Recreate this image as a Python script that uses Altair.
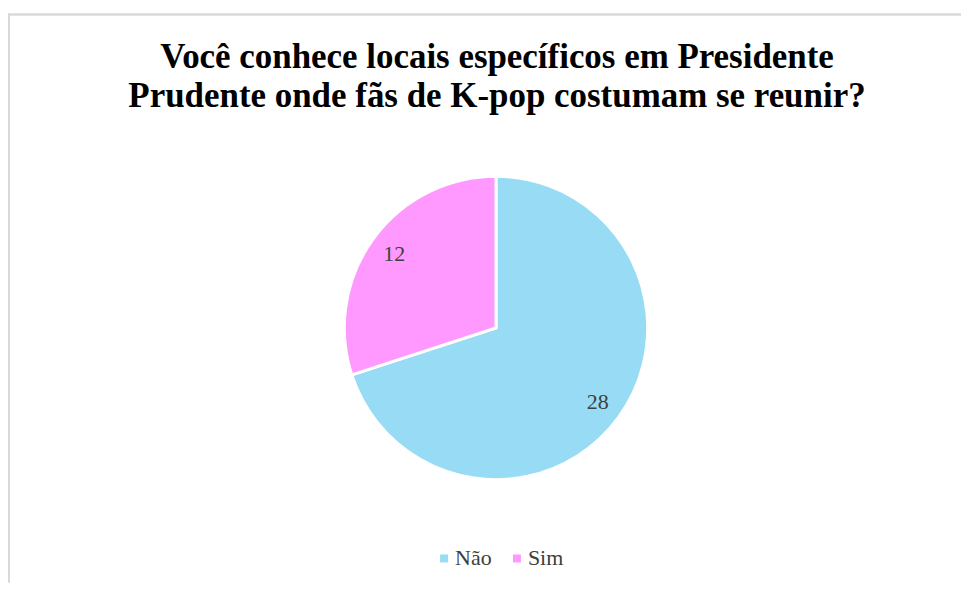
import altair as alt
import pandas as pd

categories = ["Não", "Sim"]
values = [28, 12]
colors = ["#98DBF4", "#FF99FF"]
title_lines = ["Você conhece locais específicos em Presidente",
               "Prudente onde fãs de K-pop costumam se reunir?"]

df = pd.DataFrame({"resposta": categories, "valor": values, "ordem": [0, 1]})

W, H = 954, 570

base = alt.Chart(df).encode(
    theta=alt.Theta("valor:Q", stack=True),
    order=alt.Order("ordem:Q"),
)

pie = base.mark_arc(radius=152, stroke="white", strokeWidth=3).encode(
    x=alt.value(488), y=alt.value(315),
    color=alt.Color("resposta:N",
                    scale=alt.Scale(domain=categories, range=colors),
                    legend=alt.Legend(title=None, orient="none", direction="horizontal",
                                      legendX=425, legendY=535, symbolType="square",
                                      symbolSize=64, labelFont="Liberation Serif",
                                      labelFontSize=22, labelColor="#404040",
                                      labelOffset=0, columnPadding=14,
                                      symbolStrokeWidth=0)),
)

labels = base.mark_text(radius=126, font="Liberation Serif", fontSize=22,
                        color="#404040").encode(
    x=alt.value(488), y=alt.value(315),
    text=alt.Text("valor:Q"),
)

border_top = alt.Chart(df).mark_rule(color="#d9d9d9", strokeWidth=2).encode(
    x=alt.value(0), x2=alt.value(W), y=alt.value(1))
border_left = alt.Chart(df).mark_rule(color="#d9d9d9", strokeWidth=2).encode(
    x=alt.value(0), y=alt.value(0), y2=alt.value(H))

chart = alt.layer(border_top, border_left, pie, labels).properties(
    width=W, height=H,
    padding={"left": 0, "top": 4, "right": 0, "bottom": 0},
    title=alt.TitleParams(text=title_lines, font="Liberation Serif", fontSize=35,
                          fontWeight="bold", color="black", lineHeight=39,
                          anchor="middle", offset=-102, dx=12),
).configure_view(stroke=None)

chart.save("out.html", embed_options={"renderer": "svg", "actions": False})
